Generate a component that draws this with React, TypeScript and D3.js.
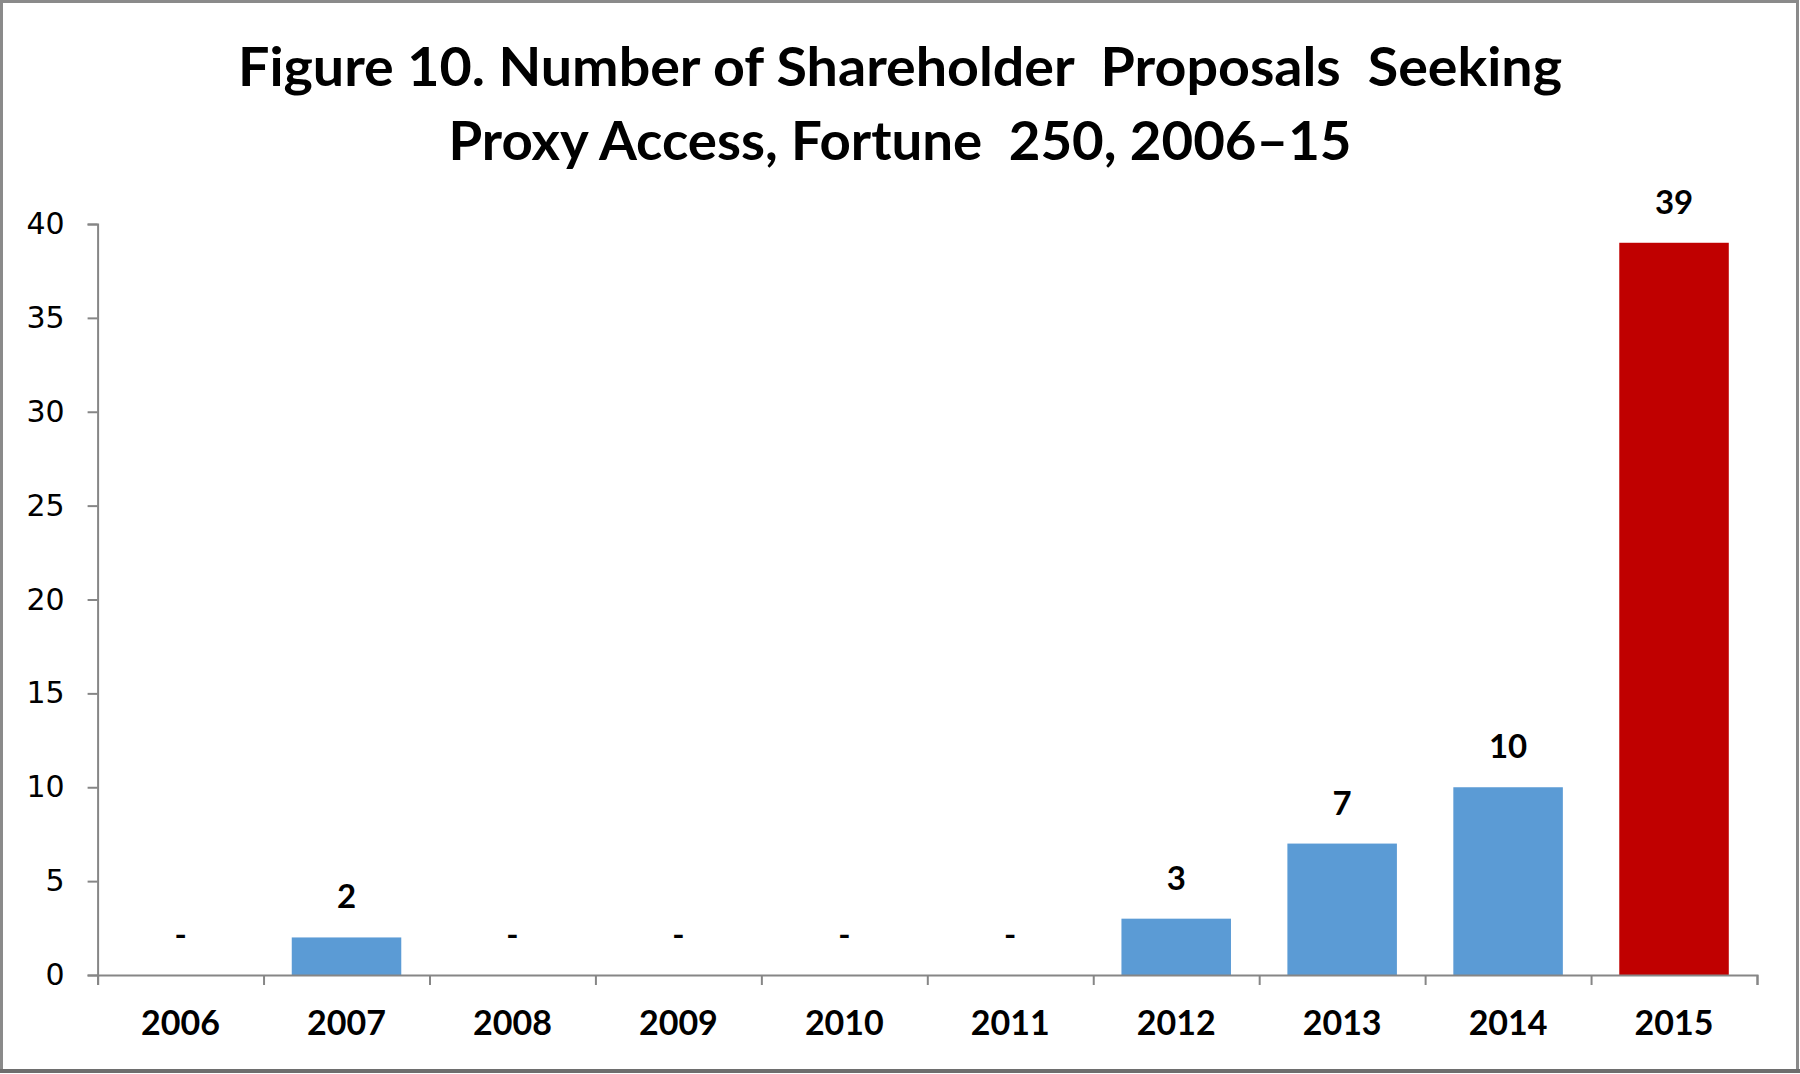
import React, { useEffect, useRef } from "react";
import * as d3 from "d3";

const years = ["2006", "2007", "2008", "2009", "2010", "2011", "2012", "2013", "2014", "2015"];
const proposals = [0, 2, 0, 0, 0, 0, 3, 7, 10, 39];
const yTicks = [0, 5, 10, 15, 20, 25, 30, 35, 40];
const titleLines = [
  "Figure 10. Number of Shareholder  Proposals  Seeking",
  "Proxy Access, Fortune  250, 2006\u201315",
];
const highlightYear = "2015";

const App = () => {
  const ref = useRef<HTMLDivElement>(null);

  useEffect(() => {
    document.body.style.margin = "0";
    const width = 1800;
    const height = 1074;
    const left = 97.6;
    const right = 1757;
    const top = 224;
    const bottom = 975;

    d3.select(ref.current).selectAll("*").remove();
    const svg = d3
      .select(ref.current)
      .append("svg")
      .attr("width", width)
      .attr("height", height)
      .style("display", "block");

    svg.append("rect").attr("width", width).attr("height", height).attr("fill", "#fff");

    // frame
    svg
      .append("rect")
      .attr("x", 1.5)
      .attr("y", 1.5)
      .attr("width", width - 4)
      .attr("height", height - 5)
      .attr("fill", "none")
      .attr("stroke", "#8a8a8a")
      .attr("stroke-width", 3);
    svg
      .append("line")
      .attr("x1", 0)
      .attr("x2", width)
      .attr("y1", height - 3)
      .attr("y2", height - 3)
      .attr("stroke", "#6e6e6e")
      .attr("stroke-width", 4);

    // title
    const titleWidths = [1324, 903];
    const titleBase = [86, 160];
    titleLines.forEach((t, i) => {
      svg
        .append("text")
        .attr("x", width / 2)
        .attr("y", titleBase[i])
        .attr("text-anchor", "middle")
        .attr("textLength", titleWidths[i])
        .attr("lengthAdjust", "spacingAndGlyphs")
        .style("white-space", "pre")
        .style("font-family", "Lato, 'Open Sans', sans-serif")
        .style("font-weight", "bold")
        .style("font-size", "53px")
        .attr("fill", "#000")
        .text(t);
    });

    const y = d3.scaleLinear().domain([0, 40]).range([bottom, top]);
    const x = d3
      .scaleBand()
      .domain(years)
      .range([left, right])
      .paddingInner(0.34)
      .paddingOuter(0.17);
    const edges = d3.scaleLinear().domain([0, years.length]).range([left, right]);

    // bars
    svg
      .append("g")
      .selectAll("rect")
      .data(years)
      .enter()
      .append("rect")
      .attr("x", (d) => x(d) as number)
      .attr("width", x.bandwidth())
      .attr("y", (d, i) => y(proposals[i]))
      .attr("height", (d, i) => bottom - y(proposals[i]))
      .attr("fill", (d) => (d === highlightYear ? "#C00000" : "#5B9BD5"));

    // y axis
    const yAxis = svg
      .append("g")
      .attr("transform", `translate(${left},0)`)
      .call(d3.axisLeft(y).tickValues(yTicks).tickSize(10).tickPadding(23));
    yAxis.selectAll("path, line").attr("stroke", "#868686").attr("stroke-width", 2);
    yAxis
      .selectAll("text")
      .attr("fill", "#000")
      .style("font-family", "'DejaVu Sans', sans-serif")
      .style("font-size", "30px");

    // x axis
    const xAxis = svg
      .append("g")
      .attr("transform", `translate(0,${bottom})`)
      .call(
        d3
          .axisBottom(edges)
          .tickValues(d3.range(years.length + 1))
          .tickFormat(() => "")
          .tickSize(10)
          .tickSizeOuter(10)
      );
    xAxis.selectAll("path, line").attr("stroke", "#868686").attr("stroke-width", 2);

    // category labels
    svg
      .append("g")
      .selectAll("text")
      .data(years)
      .enter()
      .append("text")
      .attr("x", (d) => (x(d) as number) + x.bandwidth() / 2)
      .attr("y", 1035)
      .attr("text-anchor", "middle")
      .style("font-family", "Lato, sans-serif")
      .style("font-weight", "bold")
      .style("font-size", "34px")
      .attr("fill", "#000")
      .text((d) => d);

    // value labels
    svg
      .append("g")
      .selectAll("text")
      .data(years)
      .enter()
      .append("text")
      .attr("x", (d) => (x(d) as number) + x.bandwidth() / 2)
      .attr("y", (d, i) => y(proposals[i]) - 29)
      .attr("text-anchor", "middle")
      .style("font-family", "Lato, sans-serif")
      .style("font-weight", "bold")
      .style("font-size", "33px")
      .attr("fill", "#000")
      .text((d, i) => (proposals[i] === 0 ? "-" : String(proposals[i])));
  }, []);

  return <div ref={ref}></div>;
};

export default App;
